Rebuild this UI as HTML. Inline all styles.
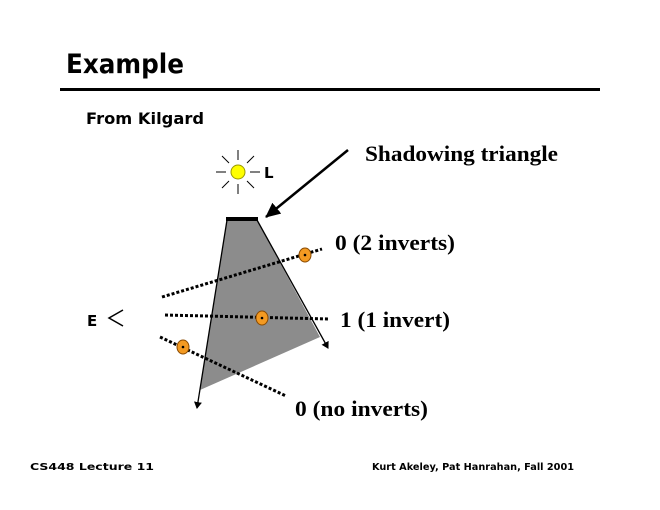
<!DOCTYPE html>
<html><head><style>
body{margin:0;width:660px;height:510px;background:#fff;overflow:hidden}
svg{display:block}
</style></head><body>
<svg width="660" height="510" viewBox="0 0 660 510" xmlns="http://www.w3.org/2000/svg">
<defs>
<marker id="ah" markerWidth="8" markerHeight="8" refX="6" refY="4" orient="auto" markerUnits="userSpaceOnUse"><path d="M0,0 L7,4 L0,8 z" fill="#000"/></marker>
<marker id="bh" markerWidth="16" markerHeight="14" refX="14" refY="7" orient="auto" markerUnits="userSpaceOnUse"><path d="M0,0 L15,7 L0,14 z" fill="#000"/></marker>
</defs>
<g font-family="'DejaVu Sans','Liberation Sans',sans-serif" font-weight="bold">
<text x="66" y="73" font-size="27" textLength="118" lengthAdjust="spacingAndGlyphs">Example</text>
<text x="86" y="124" font-size="16" textLength="118" lengthAdjust="spacingAndGlyphs">From Kilgard</text>
<text x="30" y="470" font-size="10" textLength="124" lengthAdjust="spacingAndGlyphs">CS448 Lecture 11</text>
<text x="372" y="470" font-size="10" textLength="202" lengthAdjust="spacingAndGlyphs">Kurt Akeley, Pat Hanrahan, Fall 2001</text>
<text x="264" y="178" font-size="15">L</text>
<text x="87" y="326" font-size="15">E</text>
</g>
<rect x="60" y="88" width="540" height="3" fill="#000"/>
<polygon points="227,220 257,220 320,337 200,390" fill="#8c8c8c"/>
<line x1="227" y1="220" x2="197" y2="408" stroke="#000" stroke-width="1.3" marker-end="url(#ah)"/>
<line x1="257" y1="220" x2="328" y2="348" stroke="#000" stroke-width="1.3" marker-end="url(#ah)"/>
<line x1="226" y1="219" x2="258" y2="219" stroke="#000" stroke-width="4"/>
<line x1="348" y1="150" x2="266" y2="217" stroke="#000" stroke-width="2.5" marker-end="url(#bh)"/>
<g stroke="#000" stroke-width="3" stroke-dasharray="3,2">
<line x1="162" y1="297" x2="322" y2="249"/>
<line x1="165" y1="315" x2="328" y2="319"/>
<line x1="160" y1="337" x2="286" y2="396"/>
</g>
<g fill="#f39a22" stroke="#8a4a00" stroke-width="1">
<ellipse cx="305" cy="255" rx="6" ry="7"/>
<ellipse cx="262" cy="318" rx="6" ry="7"/>
<ellipse cx="183" cy="347" rx="6" ry="7"/>
</g>
<g fill="#000"><circle cx="305" cy="255" r="1.3"/><circle cx="262" cy="318" r="1.3"/><circle cx="183" cy="347" r="1.3"/></g>
<path d="M123,310 L109,318 L123,326" fill="none" stroke="#000" stroke-width="1.5"/>
<g stroke="#000" stroke-width="1">
<line x1="238" y1="150" x2="238" y2="160"/><line x1="238" y1="184" x2="238" y2="194"/>
<line x1="216" y1="172" x2="226" y2="172"/><line x1="250" y1="172" x2="260" y2="172"/>
<line x1="222" y1="156" x2="229" y2="163"/><line x1="247" y1="181" x2="254" y2="188"/>
<line x1="254" y1="156" x2="247" y2="163"/><line x1="229" y1="181" x2="222" y2="188"/>
</g>
<circle cx="238" cy="172" r="7" fill="#ffff00" stroke="#999900" stroke-width="1"/>
<g font-family="'Liberation Serif',serif" font-weight="bold" font-size="22">
<text x="365" y="161" textLength="193" lengthAdjust="spacingAndGlyphs">Shadowing triangle</text>
<text x="335" y="250" textLength="120" lengthAdjust="spacingAndGlyphs">0 (2 inverts)</text>
<text x="340" y="327" textLength="110" lengthAdjust="spacingAndGlyphs">1 (1 invert)</text>
<text x="295" y="416" textLength="133" lengthAdjust="spacingAndGlyphs">0 (no inverts)</text>
</g>
</svg>
</body></html>
